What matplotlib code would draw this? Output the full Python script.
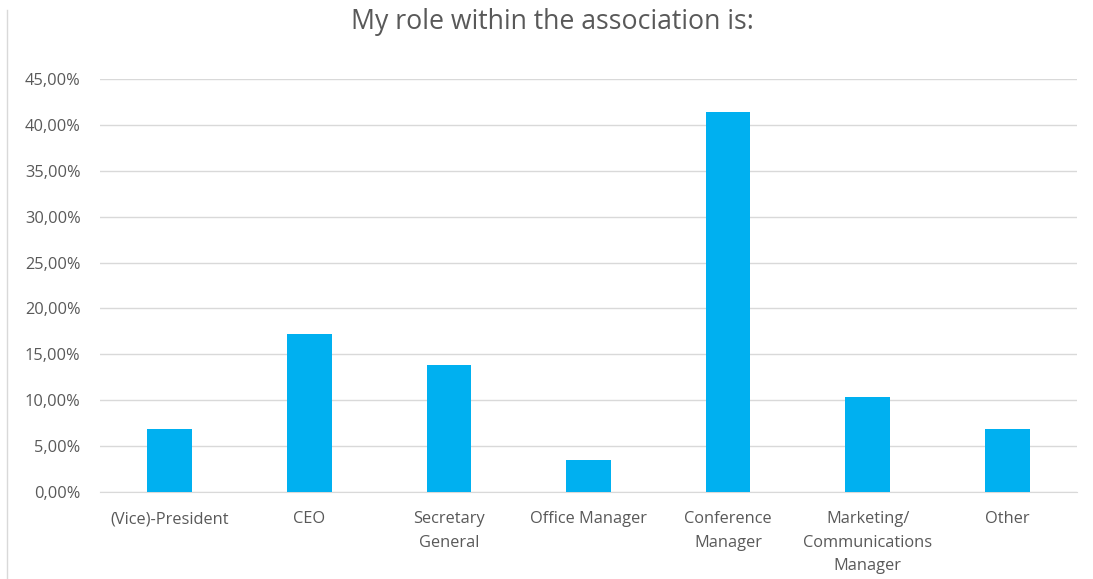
import matplotlib.pyplot as plt
from matplotlib.lines import Line2D
from matplotlib.ticker import FuncFormatter

roles = ["(Vice)-President", "CEO", "Secretary\nGeneral", "Office Manager",
         "Conference\nManager", "Marketing/\nCommunications\nManager", "Other"]
shares = [0.0690, 0.1724, 0.1379, 0.0345, 0.4138, 0.1034, 0.0690]

plt.rcParams['font.family'] = ['Open Sans', 'DejaVu Sans']
grey = '#595959'

fig = plt.figure(figsize=(10.93, 5.79), dpi=100)
ax = fig.add_axes([0.0915, 0.1503, 0.8939, 0.7133])

x = range(len(roles))
ax.bar(x, shares, width=0.32, color='#00B0F0', zorder=3)

ax.set_xlim(-0.5, len(roles) - 0.5)
ax.set_ylim(0, 0.45)
ax.set_yticks([i * 0.05 for i in range(10)])
ax.yaxis.set_major_formatter(
    FuncFormatter(lambda v, _: f"{v * 100:.2f}%".replace('.', ',')))
ax.set_xticks(list(x))
ax.set_xticklabels(roles, linespacing=1.6)

ax.grid(axis='y', color='#D9D9D9', linewidth=1, zorder=0)
for side in ['top', 'right', 'left']:
    ax.spines[side].set_visible(False)
ax.spines['bottom'].set_color('#D9D9D9')
ax.tick_params(axis='both', length=0, colors=grey, labelsize=11.8)
ax.tick_params(axis='x', pad=14)
ax.tick_params(axis='y', pad=14)

fig.text(0.505, 0.962, "My role within the association is:", ha='center',
         va='center', fontsize=19.2, color=grey)

# thin frame line on the left edge
fig.add_artist(Line2D([7 / 1093, 7 / 1093], [0, 1 - 10 / 579],
                      transform=fig.transFigure, color='#D9D9D9', linewidth=1))

fig.savefig("out.png", dpi=100)
